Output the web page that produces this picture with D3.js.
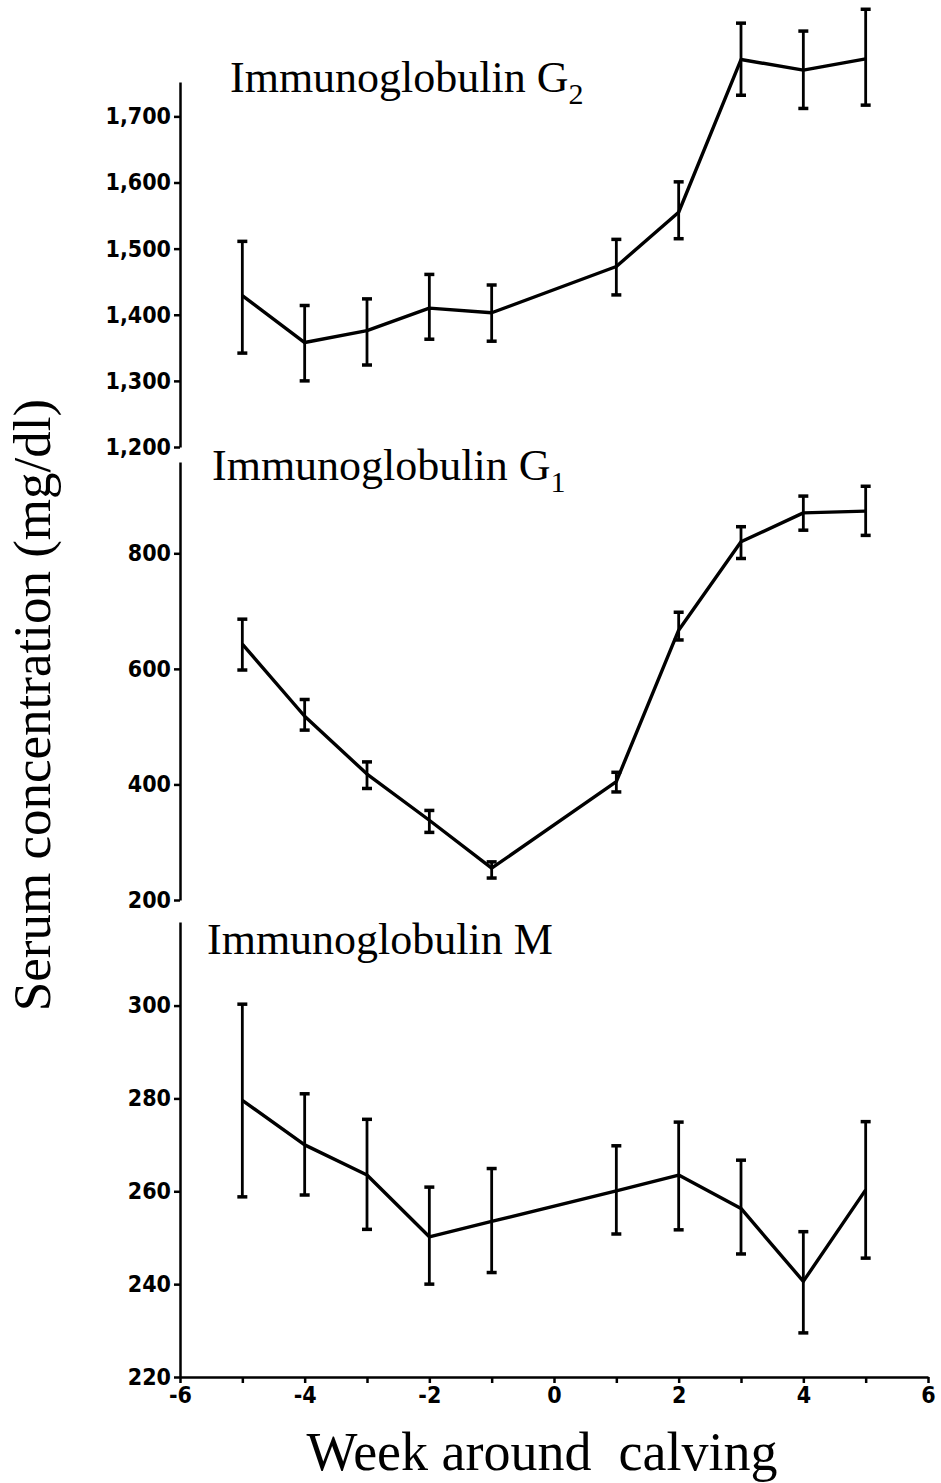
<!DOCTYPE html>
<html>
<head>
    <meta charset="utf-8">
    <title>immunoglobulins around calving</title>
    <script src="https://cdn.jsdelivr.net/npm/d3@7" type="text/javascript"></script>
</head>
<body style="margin:0;background:#fff;">
<style type="text/css">
    .axis path, .axis line {stroke:#000; stroke-width:2.5; fill:none;}
    .axis text {font-family:"Liberation Sans Narrow","Arial Narrow","DejaVu Sans Condensed",sans-serif; font-weight:bold; font-size:23px; fill:#000;}
    .title, .label {font-family:"Liberation Serif","Times New Roman",serif; fill:#000;}
    path.mean {stroke:#000; stroke-width:3.4; fill:none; stroke-linejoin:round;}
    line.err {stroke:#000; stroke-width:2.8;}
    line.cap {stroke:#000; stroke-width:3.5;}
</style>
<div id="container"></div>
<script type="text/javascript">
    const w = 941;
    const h = 1483;

    // weeks around calving (no sample at week 0)
    const weeks = [-5, -4, -3, -2, -1, 1, 2, 3, 4, 5];

    // Immunoglobulin G2
    const igg2Mean = [1429, 1358, 1376, 1410, 1403, 1473, 1555, 1786, 1770, 1787];
    const igg2Hi   = [1511, 1414, 1424, 1461, 1445, 1514, 1601, 1841, 1829, 1862];
    const igg2Lo   = [1342, 1300, 1324, 1363, 1360, 1430, 1515, 1732, 1712, 1717];
    const igg2Ticks = [1200, 1300, 1400, 1500, 1600, 1700];

    // Immunoglobulin G1
    const igg1Mean = [643, 518, 418, 338, 255, 405, 667, 820, 870, 873];
    const igg1Hi   = [686, 547, 439, 355, 266, 421, 698, 846, 899, 916];
    const igg1Lo   = [598, 494, 393, 317, 238, 387, 650, 791, 840, 831];
    const igg1Ticks = [200, 400, 600, 800];

    // Immunoglobulin M
    const igmMean = [279.6, 270, 263.5, 250.2, 253.5, 260.1, 263.5, 256.3, 240.6, 260.3];
    const igmHi   = [300.3, 281, 275.5, 260.9, 264.9, 269.8, 274.9, 266.7, 251.3, 275];
    const igmLo   = [258.8, 259.2, 251.8, 240, 242.5, 250.8, 251.7, 246.5, 229.5, 245.6];
    const igmTicks = [220, 240, 260, 280, 300];

    const xTicks = [-6, -5, -4, -3, -2, -1, 0, 1, 2, 3, 4, 5, 6];

    const svg = d3.select('div#container')
        .append('svg')
        .attr('width', w)
        .attr('height', h)

    const x = d3.scaleLinear().domain([-6, 6]).range([180, 928]);

    const panels = [
        {name: 'Immunoglobulin G', sub: '2', mean: igg2Mean, hi: igg2Hi, lo: igg2Lo, ticks: igg2Ticks,
         y: d3.scaleLinear().domain([1200, 1752]).range([447, 82]), tx: 230, ty: 92},
        {name: 'Immunoglobulin G', sub: '1', mean: igg1Mean, hi: igg1Hi, lo: igg1Lo, ticks: igg1Ticks,
         y: d3.scaleLinear().domain([200, 958]).range([900, 462]), tx: 212, ty: 480},
        {name: 'Immunoglobulin M', sub: null, mean: igmMean, hi: igmHi, lo: igmLo, ticks: igmTicks,
         y: d3.scaleLinear().domain([220, 318]).range([1377, 922]), tx: 207, ty: 954},
    ];

    const fmt = d3.format(',');

    panels.forEach(p => {
        const g = svg.append('g');
        const y = p.y;

        g.append('g')
            .attr('class', 'axis')
            .attr('transform', `translate(${x(-6)},0)`)
            .call(d3.axisLeft(y).tickValues(p.ticks).tickFormat(fmt).tickSize(6).tickSizeOuter(0).tickPadding(3));

        const rows = weeks.map((wk, i) => ({wk: wk, m: p.mean[i], hi: p.hi[i], lo: p.lo[i]}));

        // error bars
        g.selectAll('line.err').data(rows).enter().append('line')
            .attr('class', 'err')
            .attr('x1', d => x(d.wk)).attr('x2', d => x(d.wk))
            .attr('y1', d => y(d.hi)).attr('y2', d => y(d.lo));
        g.selectAll('line.cap-hi').data(rows).enter().append('line')
            .attr('class', 'cap')
            .attr('x1', d => x(d.wk) - 5).attr('x2', d => x(d.wk) + 5)
            .attr('y1', d => y(d.hi)).attr('y2', d => y(d.hi));
        g.selectAll('line.cap-lo').data(rows).enter().append('line')
            .attr('class', 'cap')
            .attr('x1', d => x(d.wk) - 5).attr('x2', d => x(d.wk) + 5)
            .attr('y1', d => y(d.lo)).attr('y2', d => y(d.lo));

        const line = d3.line().x(d => x(d.wk)).y(d => y(d.m));
        g.append('path').attr('class', 'mean').attr('d', line(rows));

        const t = g.append('text')
            .attr('class', 'title')
            .attr('x', p.tx)
            .attr('y', p.ty)
            .style('font-size', '44px')
            .text(p.name);
        if (p.sub) {
            t.append('tspan').attr('dy', 12).style('font-size', '30px').text(p.sub);
        }
    });

    // shared x axis under the bottom panel
    svg.append('g')
        .attr('class', 'axis')
        .attr('transform', 'translate(0,1377)')
        .call(d3.axisBottom(x).tickValues(xTicks)
            .tickFormat(d => d % 2 === 0 ? d3.format('d')(d).replace('−', '-') : '')
            .tickSize(6).tickSizeOuter(0).tickPadding(4));

    svg.append('text')
        .attr('class', 'label')
        .attr('x', 542)
        .attr('y', 1470)
        .attr('text-anchor', 'middle')
        .style('font-size', '54px')
        .text('Week around\u00a0 calving');

    svg.append('text')
        .attr('class', 'label')
        .attr('transform', 'translate(50,705) rotate(-90)')
        .attr('text-anchor', 'middle')
        .style('font-size', '53px')
        .text('Serum concentration (mg/dl)');
</script>
</body>
</html>
